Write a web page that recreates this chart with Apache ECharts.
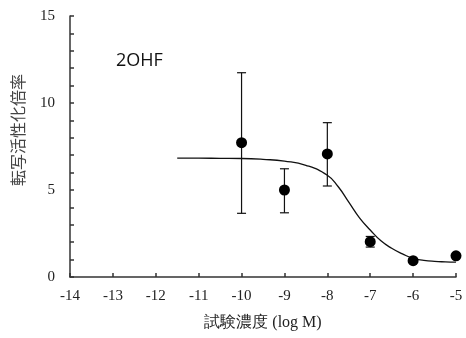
<!DOCTYPE html>
<html><head><meta charset="utf-8">
<script src="https://cdn.jsdelivr.net/npm/echarts@6/dist/echarts.min.js"></script>
<style>html,body{margin:0;padding:0;background:#fff}#c{width:466px;height:338px}</style>
</head><body><div id="c"></div>
<script>
// Measured data points
var concLog = [-10, -9, -8, -7, -6, -5];
var meanVals = [7.72, 5.0, 7.07, 2.03, 0.94, 1.22];
var errLow = [3.66, 3.69, 5.23, 1.72, 0.94, 1.22];
var errHigh = [11.74, 6.22, 8.87, 2.33, 0.94, 1.22];
// Fitted curve
var curveX = [-11.5, -11, -10.5, -10, -9.5, -9, -8.5, -8, -7.75, -7.5, -7.25, -7, -6.75, -6.5, -6.25, -6, -5.75, -5.5, -5.25, -5];
var curveY = [6.83, 6.83, 6.82, 6.81, 6.76, 6.66, 6.42, 5.85, 5.2, 4.3, 3.4, 2.7, 2.08, 1.65, 1.33, 1.07, 0.96, 0.9, 0.87, 0.85];
var xTicks = {min: -14, max: -5, interval: 1};
var yTicks = {min: 0, max: 15, interval: 1, labelStep: 5};
var labelText = '2OHF';
var xName = '試験濃度 (log M)';
var yName = '転写活性化倍率';

var chart = echarts.init(document.getElementById('c'), null, {renderer: 'canvas'});
var axisColor = '#333';
var serif = '"Liberation Serif", "Times New Roman", serif';
var cjk = '"Noto Sans CJK JP", sans-serif';

var pts = concLog.map(function (x, i) { return [x, meanVals[i]]; });
var errs = concLog.map(function (x, i) { return [x, errLow[i], errHigh[i]]; });
var curve = curveX.map(function (x, i) { return [x, curveY[i]]; });

chart.setOption({
  animation: false,
  grid: {left: 70, right: 10, top: 16, bottom: 61},
  xAxis: {
    type: 'value', min: xTicks.min, max: xTicks.max, interval: xTicks.interval,
    name: xName, nameLocation: 'middle', nameGap: 38,
    nameTextStyle: {color: '#222', fontSize: 16, fontFamily: serif},
    axisLine: {show: true, onZero: false, lineStyle: {color: axisColor, width: 1.5}},
    axisTick: {show: true, inside: true, length: 4, lineStyle: {color: axisColor, width: 1.5}},
    axisLabel: {color: '#222', fontSize: 15, fontFamily: serif, margin: 12},
    splitLine: {show: false}
  },
  yAxis: {
    type: 'value', min: yTicks.min, max: yTicks.max, interval: yTicks.interval,
    name: yName, nameLocation: 'middle', nameGap: 44,
    nameTextStyle: {color: '#444', fontSize: 16, fontFamily: cjk, padding: [0, 0, 0, 33]},
    axisLine: {show: true, onZero: false, lineStyle: {color: axisColor, width: 1.5}},
    axisTick: {show: true, inside: true, length: 4, lineStyle: {color: axisColor, width: 1.5}},
    axisLabel: {color: '#222', fontSize: 15, fontFamily: serif, margin: 15,
      formatter: function (v) { return v % yTicks.labelStep === 0 ? String(v) : ''; }},
    splitLine: {show: false}
  },
  graphic: [{
    type: 'text', left: 116, top: 52,
    style: {text: labelText, fontSize: 18, fontFamily: '"Open Sans", "Noto Sans", sans-serif', fill: '#111'}
  }],
  series: [
    {
      type: 'custom', data: errs, z: 2,
      renderItem: function (params, api) {
        var x = api.value(0);
        var lo = api.coord([x, api.value(1)]);
        var hi = api.coord([x, api.value(2)]);
        var w = 4.5;
        var st = {stroke: '#111', lineWidth: 1.2, fill: null};
        return {type: 'group', children: [
          {type: 'line', shape: {x1: lo[0], y1: lo[1], x2: hi[0], y2: hi[1]}, style: st},
          {type: 'line', shape: {x1: lo[0] - w, y1: lo[1], x2: lo[0] + w, y2: lo[1]}, style: st},
          {type: 'line', shape: {x1: hi[0] - w, y1: hi[1], x2: hi[0] + w, y2: hi[1]}, style: st}
        ]};
      }
    },
    {
      type: 'line', data: curve, smooth: true, showSymbol: false, z: 3,
      lineStyle: {color: '#111', width: 1.3}
    },
    {
      type: 'scatter', data: pts, symbol: 'circle', symbolSize: 11, z: 4,
      itemStyle: {color: '#000', opacity: 1}
    }
  ]
});
</script></body></html>
